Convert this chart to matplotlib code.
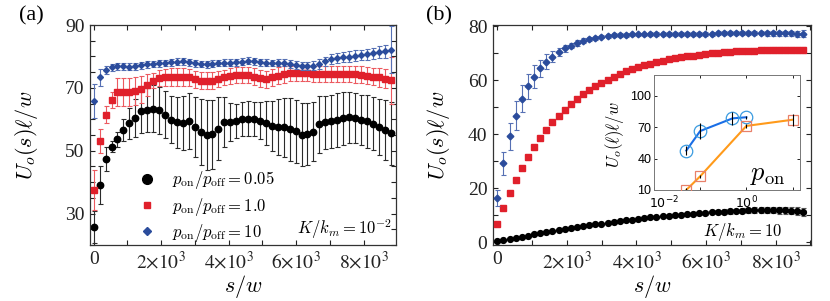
import numpy as np
import matplotlib
matplotlib.use('Agg')
import matplotlib.pyplot as plt
from matplotlib.lines import Line2D
from matplotlib.ticker import MultipleLocator, FuncFormatter, FixedLocator, NullLocator, NullFormatter

plt.rcParams['mathtext.fontset'] = 'stix'
plt.rcParams['font.family'] = ['Liberation Serif', 'DejaVu Serif']

# ---------------- data ----------------
s = np.arange(51) * 176.0  # sampling positions s/w

a_black = [25.7, 39.2, 47.5, 51.3, 53.7, 56.6, 58.7, 60.4, 62.6, 63.0,
           63.4, 62.9, 61.5, 59.9, 59.0, 58.8, 59.5, 57.5, 56.1, 55.0,
           55.2, 57.0, 59.2, 59.1, 59.5, 60.1, 60.2, 60.1, 59.6, 58.8,
           57.9, 57.6, 57.4, 56.8, 56.2, 55.1, 55.3, 56.1, 58.4, 59.0,
           59.3, 59.8, 60.3, 60.6, 60.4, 59.7, 59.3, 58.6, 57.6, 56.6, 55.5]
a_black_err = [5, 6, 3.8, 1.8, 2.4, 3.5, 5, 6, 7, 7,
               7.5, 7.5, 7.5, 7.5, 8, 8.5, 9, 9.5, 10.5, 11,
               11, 10, 8, 6, 5.5, 5.5, 5.5, 5.5, 6, 7,
               8, 9, 9.5, 10, 10, 10, 10, 9.5, 9, 8.5,
               8.5, 8.5, 8.5, 8, 8, 8, 8.5, 8.5, 9, 9.5, 10]
a_red = [37.5, 53.2, 61.5, 66.2, 68.6, 68.6, 68.6, 68.9, 69.5, 71.0,
         72.3, 73.2, 73.4, 73.5, 73.4, 73.5, 73.3, 72.8, 72.3, 72.2,
         72.3, 72.8, 73.3, 73.7, 74.0, 74.1, 74.0, 73.6, 73.0, 72.8,
         73.4, 73.9, 74.3, 74.6, 74.7, 74.7, 74.6, 74.5, 74.3, 74.3,
         74.4, 74.5, 74.5, 74.4, 74.3, 74.1, 73.9, 73.6, 73.3, 72.9, 72.4]
a_red_err = [6.5, 3.8, 2.7, 2.5, 4.5, 4.5, 4.5, 4.5, 4.2, 3.5,
             2.5, 2.6, 2.7, 2.8, 2.8, 2.8, 2.8, 2.7, 2.7, 2.7,
             2.6, 2.6, 2.5, 2.5, 2.5, 2.5, 2.5, 2.6, 2.7, 2.7,
             2.7, 2.6, 2.6, 2.5, 2.5, 2.5, 2.5, 2.5, 2.5, 2.5,
             2.5, 2.5, 2.6, 2.6, 2.6, 2.7, 2.7, 2.8, 2.9, 3.0, 7.5]
a_blue = [65.8, 73.3, 75.8, 76.6, 76.8, 76.8, 76.7, 76.8, 77.2, 77.5,
          77.6, 77.8, 77.9, 78.1, 78.3, 78.4, 78.2, 77.8, 77.6, 77.5,
          77.7, 77.9, 78.0, 78.0, 78.1, 78.3, 78.6, 78.5, 78.2, 78.0,
          77.9, 78.0, 78.0, 77.6, 77.2, 77.0, 76.9, 77.0, 77.6, 78.4,
          79.2, 79.6, 79.8, 79.9, 80.2, 80.5, 80.7, 81.0, 81.3, 81.6, 82.1]
a_blue_err = [5.4, 2.6, 1.3, 1.1, 1.1, 1.1, 1.1, 1.1, 1.1, 1.1,
              1.1, 1.1, 1.1, 1.1, 1.1, 1.1, 1.1, 1.1, 1.1, 1.1,
              1.1, 1.1, 1.1, 1.1, 1.1, 1.1, 1.1, 1.1, 1.1, 1.1,
              1.1, 1.1, 1.2, 1.2, 1.2, 1.3, 1.3, 1.4, 1.5, 1.5,
              1.6, 1.6, 1.6, 1.7, 1.7, 1.7, 1.8, 1.8, 1.9, 2.0, 7.5]

b_black = [0.5, 0.9, 1.3, 1.7, 2.1, 2.5, 2.9, 3.3, 3.7, 4.1,
           4.5, 4.9, 5.3, 5.6, 5.9, 6.3, 6.6, 6.9, 7.2, 7.5,
           7.8, 8.1, 8.4, 8.7, 8.9, 9.2, 9.4, 9.6, 9.8, 10.0,
           10.2, 10.4, 10.6, 10.8, 10.9, 11.1, 11.2, 11.4, 11.5, 11.6,
           11.7, 11.8, 11.9, 12.0, 12.0, 12.0, 11.9, 11.8, 11.7, 11.5, 11.3]
b_black_err = [0.3] * 30 + [0.5, 0.5, 0.6, 0.6, 0.7, 0.7, 0.8, 0.8, 0.9, 0.9,
                            1.0, 1.0, 1.1, 1.1, 1.2, 1.2, 1.3, 1.3, 1.4, 1.4, 1.5]
b_red = [6.9, 12.7, 18.3, 22.9, 27.6, 31.6, 35.2, 38.6, 41.6, 44.5,
         46.9, 49.1, 51.1, 53.0, 54.8, 56.4, 57.8, 59.1, 60.3, 61.4,
         62.4, 63.3, 64.1, 64.9, 65.6, 66.2, 66.8, 67.3, 67.8, 68.2,
         68.6, 68.9, 69.2, 69.5, 69.8, 70.0, 70.2, 70.4, 70.6, 70.7,
         70.8, 70.9, 71.0, 71.1, 71.2, 71.2, 71.3, 71.3, 71.3, 71.2, 71.2]
b_red_err = [0.4] * 30 + [0.5, 0.5, 0.5, 0.6, 0.6, 0.6, 0.7, 0.7, 0.7, 0.8,
                          0.8, 0.8, 0.9, 0.9, 0.9, 1.0, 1.0, 1.0, 1.1, 1.1, 1.2]
b_blue = [16.5, 29.2, 39.2, 46.9, 53.1, 57.8, 61.4, 64.4, 66.9, 68.8,
          70.5, 71.8, 72.9, 73.8, 74.6, 75.3, 75.8, 76.2, 76.5, 76.7,
          76.8, 76.9, 77.0, 77.0, 77.0, 77.1, 77.1, 77.1, 77.2, 77.2,
          77.2, 77.2, 77.3, 77.3, 77.3, 77.3, 77.4, 77.4, 77.4, 77.4,
          77.5, 77.5, 77.5, 77.5, 77.5, 77.5, 77.5, 77.4, 77.4, 77.3, 77.3]
b_blue_err = [3.0, 4.2, 5.0, 5.4, 5.0, 4.6, 4.1, 3.3, 2.8, 2.0,
              1.6, 1.3, 1.1, 1.0, 0.9, 0.8] + [0.7] * 25 + \
             [0.8, 0.8, 0.8, 0.9, 0.9, 0.9, 1.0, 1.0, 1.1, 1.2]

# inset
in_blue_x = [0.05, 0.1, 0.5, 1.0]
in_blue_y = [47.7, 66.4, 78.5, 79.6]
in_blue_err = [4, 8, 6.5, 1.5]
in_orange_x = [0.05, 0.1, 1.0, 10.0]
in_orange_y = [10.0, 23.1, 71.3, 77.2]
in_orange_err = [1.5, 1.5, 2.0, 5.6]
in_xticks = [0.01, 0.1, 1, 10]
in_xticklabels = [(0.01, r'$10^{-2}$'), (1.0, r'$10^{0}$')]
in_yticks = [10, 40, 70, 100]

legend_labels = [r'$p_{\rm on}/p_{\rm off}=0.05$',
                 r'$p_{\rm on}/p_{\rm off}=1.0$',
                 r'$p_{\rm on}/p_{\rm off}=10$']

# ---------------- style ----------------
C_BLACK = '#000000'
C_BLACK_E = '#2b2b2b'
C_RED = '#e0202b'
C_RED_E = '#ec5a60'
C_BLUE = '#2b4c9c'
C_BLUE_E = '#5670b4'

W, H = 830, 301
fig = plt.figure(figsize=(W / 100, H / 100), dpi=100)
axA = fig.add_axes([90 / W, 1 - 245 / H, 306 / W, 220 / H])
axB = fig.add_axes([493 / W, 1 - 245 / H, 318 / W, 220 / H])


def sci_fmt(v, pos):
    v = int(round(v))
    if v == 0:
        return '0'
    if v % 2000 == 0:
        return r'$%d{\times}10^3$' % (v // 1000)
    return ''


def style_main(ax, ylabels):
    ax.xaxis.set_major_locator(MultipleLocator(1000))
    ax.xaxis.set_major_formatter(FuncFormatter(sci_fmt))
    ax.yaxis.set_major_formatter(FuncFormatter(
        lambda v, p: '%d' % round(v) if int(round(v)) in ylabels else ''))
    ax.tick_params(direction='in', top=True, right=True, length=3.5,
                   width=0.8, labelsize=14, colors='#222222', pad=4)
    for sp in ax.spines.values():
        sp.set_linewidth(0.9)
        sp.set_color('#333333')
    ax.set_xlabel(r'$s/w$', fontsize=16, math_fontfamily='cm')


eb_kw = dict(elinewidth=0.8, capsize=1.8, capthick=0.8, linestyle='none')

# ---- panel (a) ----
axA.errorbar(s, a_black, yerr=a_black_err, fmt='o', color=C_BLACK, ms=4.6,
             ecolor=C_BLACK_E, zorder=2, **eb_kw)
axA.errorbar(s, a_red, yerr=a_red_err, fmt='s', color=C_RED, ms=3.8,
             ecolor=C_RED_E, zorder=3, **eb_kw)
axA.errorbar(s, a_blue, yerr=a_blue_err, fmt='D', color=C_BLUE, ms=3.0,
             ecolor=C_BLUE_E, zorder=4, **eb_kw)
axA.set_xlim(-110, 8960)
axA.set_ylim(20, 90)
axA.yaxis.set_major_locator(MultipleLocator(5))
style_main(axA, {30, 50, 70, 90})
axA.set_ylabel(r'$U_o(s)\ell/w$', fontsize=16, math_fontfamily='cm')
axA.yaxis.set_label_coords(-0.165, 0.5)
axA.xaxis.set_label_coords(0.5, -0.125)

handles = [Line2D([], [], marker='o', color=C_BLACK, ms=7, ls='none'),
           Line2D([], [], marker='s', color=C_RED, ms=5, ls='none'),
           Line2D([], [], marker='D', color=C_BLUE, ms=4, ls='none')]
leg = axA.legend(handles, legend_labels, loc='center left',
                 bbox_to_anchor=(0.16, 0.175), frameon=False, fontsize=12,
                 handlelength=1.0, handletextpad=1.0, labelspacing=0.25,
                 borderpad=0, borderaxespad=0)
for t in leg.get_texts():
    t.set_math_fontfamily('cm')
axA.text(0.676, 0.073, r'$K/k_m=10^{-2}$', transform=axA.transAxes,
         fontsize=12, ha='left', va='center', math_fontfamily='cm')

# ---- panel (b) ----
axB.errorbar(s, b_black, yerr=b_black_err, fmt='o', color=C_BLACK, ms=4.2,
             ecolor='#555555', zorder=2, **eb_kw)
axB.errorbar(s, b_red, yerr=b_red_err, fmt='s', color=C_RED, ms=4.6,
             ecolor=C_RED_E, zorder=3, **eb_kw)
axB.errorbar(s, b_blue, yerr=b_blue_err, fmt='D', color=C_BLUE, ms=3.4,
             ecolor=C_BLUE_E, zorder=4, **eb_kw)
axB.set_xlim(-125, 9020)
axB.set_ylim(-1.0, 80.5)
axB.yaxis.set_major_locator(MultipleLocator(10))
style_main(axB, {0, 20, 40, 60, 80})
axB.set_ylabel(r'$U_o(s)\ell/w$', fontsize=16, math_fontfamily='cm')
axB.yaxis.set_label_coords(-0.13, 0.5)
axB.xaxis.set_label_coords(0.5, -0.125)
axB.text(0.66, 0.059, r'$K/k_m=10$', transform=axB.transAxes,
         fontsize=12, ha='left', va='center', math_fontfamily='cm')

fig.text(19 / W, 1 - 16 / H, '(a)', fontsize=16, ha='left', va='center')
fig.text(426 / W, 1 - 16 / H, '(b)', fontsize=16, ha='left', va='center')

# ---- inset ----
axI = fig.add_axes([654 / W, 1 - 190 / H, 146 / W, 115 / H])
axI.set_xscale('log')
axI.plot(in_blue_x, in_blue_y, color='#1a6ee6', lw=1.5, zorder=2)
axI.plot(in_blue_x, in_blue_y, 'o', mfc='none', mec='#3a9be0', ms=9,
         mew=0.9, zorder=3)
axI.errorbar(in_blue_x, in_blue_y, yerr=in_blue_err, fmt='none',
             ecolor='black', elinewidth=0.8, capsize=0, zorder=4)
axI.plot(in_orange_x, in_orange_y, color='#ff9a1a', lw=1.5, zorder=2)
axI.plot(in_orange_x, in_orange_y, 's', mfc='none', mec='#e8806a', ms=7,
         mew=0.9, zorder=3)
axI.errorbar(in_orange_x, in_orange_y, yerr=in_orange_err, fmt='none',
             ecolor='black', elinewidth=0.8, capsize=0, zorder=4)
axI.set_xlim(0.01, 14.5)
axI.set_ylim(10, 120)
axI.xaxis.set_major_locator(FixedLocator(in_xticks))
axI.xaxis.set_minor_locator(NullLocator())
axI.xaxis.set_major_formatter(NullFormatter())
axI.yaxis.set_major_locator(FixedLocator(in_yticks))
axI.tick_params(direction='in', top=True, right=True, length=2.5, width=0.6,
                labelsize=9, pad=2)
for lab in axI.get_yticklabels():
    lab.set_fontfamily(['Liberation Sans', 'DejaVu Sans'])
# x tick labels of the inset, nudged right like the original
for xv, txt in in_xticklabels:
    dx = 7.5 if xv == in_xticks[0] else 0
    axI.annotate(txt, xy=(xv, 0), xycoords=('data', 'axes fraction'),
                 xytext=(dx, -3.5), textcoords='offset points',
                 ha='center', va='top', fontsize=9,
                 family=['Liberation Sans', 'DejaVu Sans'],
                 math_fontfamily='dejavusans')
for sp in axI.spines.values():
    sp.set_linewidth(0.7)
    sp.set_color('#777777')
axI.set_ylabel(r'$U_o(\ell)\ell/w$', fontsize=12, math_fontfamily='cm',
               labelpad=2)
axI.yaxis.set_label_coords(-0.19, 0.48)
axI.text(0.66, 0.12, r'$p_{\rm on}$', transform=axI.transAxes, fontsize=19,
         ha='left', va='center', math_fontfamily='cm')

fig.savefig('out.png', dpi=100)
